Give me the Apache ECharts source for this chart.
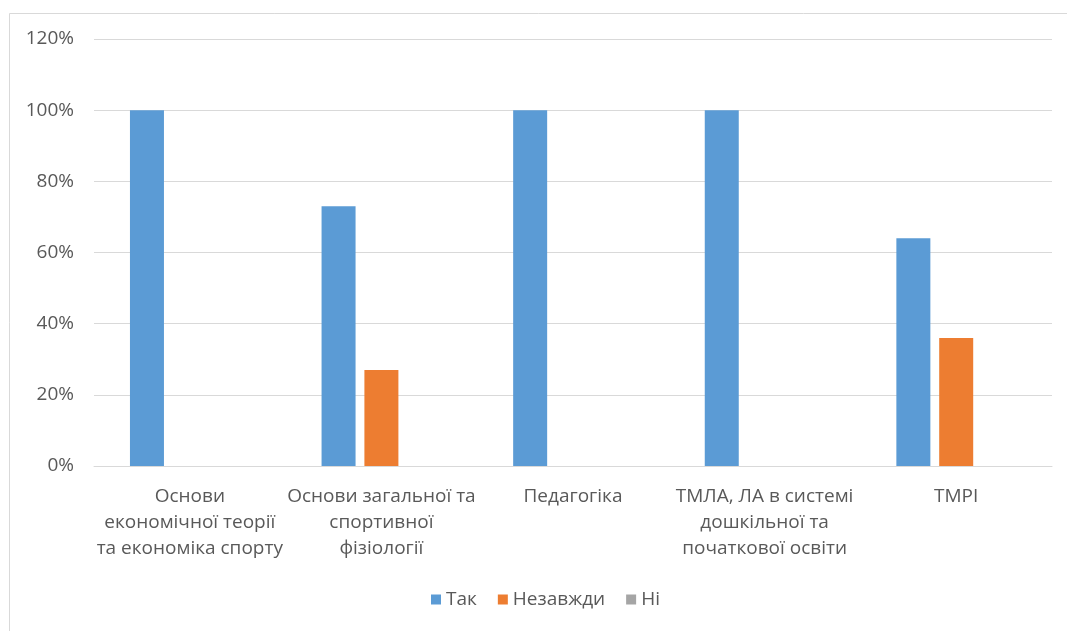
<!DOCTYPE html>
<html>
<head>
<meta charset="utf-8">
<script src="https://cdn.jsdelivr.net/npm/echarts@6/dist/echarts.min.js"></script>
<style>
html,body{margin:0;padding:0;background:#fff;}
#chart{width:1067px;height:631px;}
</style>
</head>
<body>
<div id="chart"></div>
<script>
const categories = [
  "Основи\nекономічної теорії\nта економіка спорту",
  "Основи загальної та\nспортивної\nфізіології",
  "Педагогіка",
  "ТМЛА, ЛА в системі\nдошкільної та\nпочаткової освіти",
  "ТМРІ"
];
const seriesNames = ["Так", "Незавжди", "Ні"];
const takValues = [100, 73, 100, 100, 64];
const nezavzhdyValues = [0, 27, 0, 0, 36];
const niValues = [0, 0, 0, 0, 0];
const yTicks = [0, 20, 40, 60, 80, 100, 120];

const colors = ["#5B9BD5", "#ED7D31", "#A5A5A5"];
const fontFamily = "'Open Sans', sans-serif";
const textColor = "#595959";

const chart = echarts.init(document.getElementById('chart'), null, {renderer: 'canvas'});
const mkSeries = (name, data, color) => ({
  name, type: 'bar', data,
  barWidth: 34, barGap: '26%',
  itemStyle: {color},
  emphasis: {disabled: true}
});
chart.setOption({
  animation: false,
  backgroundColor: '#ffffff',
  color: colors,
  graphic: [{
    type: 'rect',
    shape: {x: 9.5, y: 13.5, width: 1100, height: 700},
    style: {fill: 'none', stroke: '#d9d9d9', lineWidth: 1},
    silent: true
  }],
  grid: {left: 94, right: 15, top: 39, bottom: 165, containLabel: false},
  legend: {
    data: seriesNames,
    bottom: 17,
    left: 426,
    itemWidth: 10, itemHeight: 10, itemGap: 21,
    icon: 'rect',
    textStyle: {color: textColor, fontSize: 19, fontFamily}
  },
  xAxis: {
    type: 'category',
    data: categories,
    axisLine: {show: true, lineStyle: {color: '#d9d9d9', width: 1}},
    axisTick: {show: false},
    axisLabel: {
      color: textColor, fontSize: 19, fontFamily,
      lineHeight: 26, margin: 18, interval: 0, align: 'center'
    }
  },
  yAxis: {
    type: 'value',
    min: yTicks[0], max: yTicks[yTicks.length - 1], interval: 20,
    axisLine: {show: false},
    axisTick: {show: false},
    splitLine: {lineStyle: {color: '#d9d9d9', width: 1}},
    axisLabel: {
      color: textColor, fontSize: 19, fontFamily, margin: 20,
      formatter: v => v + '%'
    }
  },
  series: [
    mkSeries(seriesNames[0], takValues, colors[0]),
    mkSeries(seriesNames[1], nezavzhdyValues, colors[1]),
    mkSeries(seriesNames[2], niValues, colors[2])
  ]
});
</script>
</body>
</html>
